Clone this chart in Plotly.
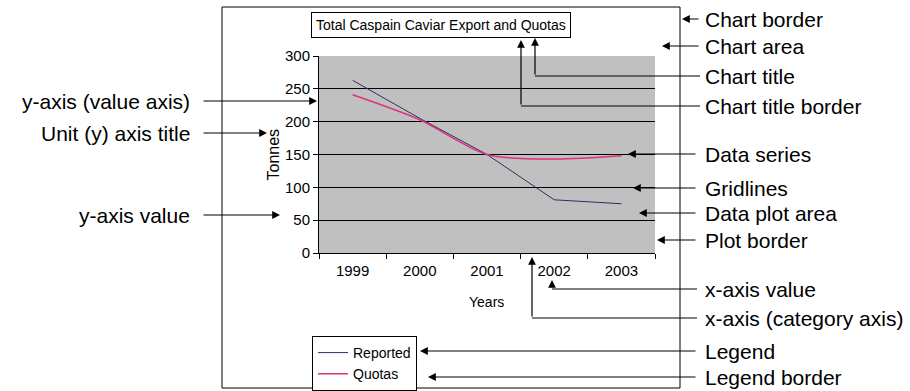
import plotly.graph_objects as go

# ---- data ----
years = ["1999", "2000", "2001", "2002", "2003"]
reported = [263, 205, 150, 81, 75]
quotas = [241, 203, 150, 143, 148]

y_ticks = [0, 50, 100, 150, 200, 250, 300]

# ---- page geometry (pixels) ----
W, H = 910, 391
L, R, T, B = 319, 255, 56, 138
PW, PH = W - L - R, H - T - B

CHART_FONT = "Liberation Sans, Arial, Helvetica, sans-serif"
SANS = "Liberation Sans, Arial, Helvetica, sans-serif"


def px(x):
    return (x - L) / PW


def py(y):
    return (H - B - y) / PH


fig = go.Figure()
fig.add_trace(go.Scatter(x=years, y=reported, name="Reported", mode="lines",
                         line=dict(color="#2e2e60", width=1)))
fig.add_trace(go.Scatter(x=years, y=quotas, name="Quotas", mode="lines",
                         line=dict(color="#e0307f", width=1.5, shape="spline", smoothing=0.8)))

shapes = []
annotations = []

# outer chart border
shapes.append(dict(type="rect", xref="paper", yref="paper",
                   x0=px(222), x1=px(680), y0=py(388), y1=py(7),
                   line=dict(color="black", width=1), layer="below"))

# boxed chart title
annotations.append(dict(text="Total Caspain Caviar Export and Quotas", xref="paper", yref="paper",
                        x=px(441), y=py(25), xanchor="center", yanchor="middle", showarrow=False,
                        font=dict(family=CHART_FONT, size=14, color="black"),
                        bordercolor="black", borderwidth=1, borderpad=4, bgcolor="white"))

# axis titles
annotations.append(dict(text="Tonnes", xref="paper", yref="paper", x=px(273), y=py(154.5),
                        textangle=-90, showarrow=False, xanchor="center", yanchor="middle",
                        font=dict(family=CHART_FONT, size=16, color="black")))
annotations.append(dict(text="Years", xref="paper", yref="paper", x=px(486), y=py(302),
                        showarrow=False, xanchor="center", yanchor="middle",
                        font=dict(family=CHART_FONT, size=14, color="black")))


def callout(label, side, path):
    """Label plus a leader line along `path` (pixel points), arrowhead on the last point."""
    tx, ty = path[0]
    if side == "right":
        annotations.append(dict(text=label, xref="paper", yref="paper", x=px(703), y=py(ty),
                                xanchor="left", yanchor="middle", showarrow=False,
                                font=dict(family=SANS, size=21, color="black")))
    else:
        annotations.append(dict(text=label, xref="paper", yref="paper", x=px(192), y=py(ty),
                                xanchor="right", yanchor="middle", showarrow=False,
                                font=dict(family=SANS, size=21, color="black")))
    for (x0, y0), (x1, y1) in zip(path[:-2], path[1:-1]):
        shapes.append(dict(type="line", xref="paper", yref="paper",
                           x0=px(x0), y0=py(y0), x1=px(x1), y1=py(y1),
                           line=dict(color="black", width=1.2)))
    (sx, sy), (hx, hy) = path[-2], path[-1]
    annotations.append(dict(text="", xref="paper", yref="paper", x=px(hx), y=py(hy),
                            ax=sx - hx, ay=sy - hy, showarrow=True, arrowhead=2,
                            arrowsize=1.3, arrowwidth=1.2, arrowcolor="black", standoff=0))


callout("Chart border", "right", [(700, 19), (682, 19)])
callout("Chart area", "right", [(700, 46), (662, 46)])
callout("Chart title", "right", [(700, 76), (535, 76), (535, 38)])
callout("Chart title border", "right", [(700, 106), (521, 106), (521, 40)])
callout("Data series", "right", [(697, 154), (628, 154)])
callout("Gridlines", "right", [(697, 188), (633, 188)])
callout("Data plot area", "right", [(697, 213), (639, 213)])
callout("Plot border", "right", [(697, 240), (657, 240)])
callout("x-axis value", "right", [(697, 289), (552, 289), (552, 280)])
callout("x-axis (category axis)", "right", [(697, 318), (532, 318), (532, 257)])
callout("Legend", "right", [(697, 351), (420, 351)])
callout("Legend border", "right", [(697, 377), (428, 377)])

callout("y-axis (value axis)", "left", [(202, 101), (317, 101)])
callout("Unit (y) axis title", "left", [(202, 133), (267, 133)])
callout("y-axis value", "left", [(202, 215), (280, 215)])

fig.update_layout(
    width=W, height=H,
    margin=dict(l=L, r=R, t=T, b=B, pad=0, autoexpand=False),
    paper_bgcolor="white",
    plot_bgcolor="#c0c0c0",
    showlegend=True,
    legend=dict(x=px(312), y=py(336), xanchor="left", yanchor="top",
                bordercolor="black", borderwidth=1, bgcolor="white",
                font=dict(family=CHART_FONT, size=14, color="black"),
                tracegroupgap=0, itemwidth=30),
    xaxis=dict(type="category", range=[-0.5, 4.5], showgrid=False, zeroline=False,
               showline=True, linecolor="black", linewidth=1,
               ticks="outside", tickson="boundaries", ticklen=5, tickcolor="black",
               ticklabelstandoff=4,
               tickfont=dict(family=CHART_FONT, size=15, color="black")),
    yaxis=dict(range=[0, 300], tickvals=y_ticks, showgrid=True, gridcolor="black", gridwidth=1,
               zeroline=False, showline=True, linecolor="black", linewidth=1,
               ticks="outside", ticklen=5, tickcolor="black",
               tickfont=dict(family=CHART_FONT, size=15, color="black")),
    shapes=shapes,
    annotations=annotations,
)

fig.write_html("out.html")
